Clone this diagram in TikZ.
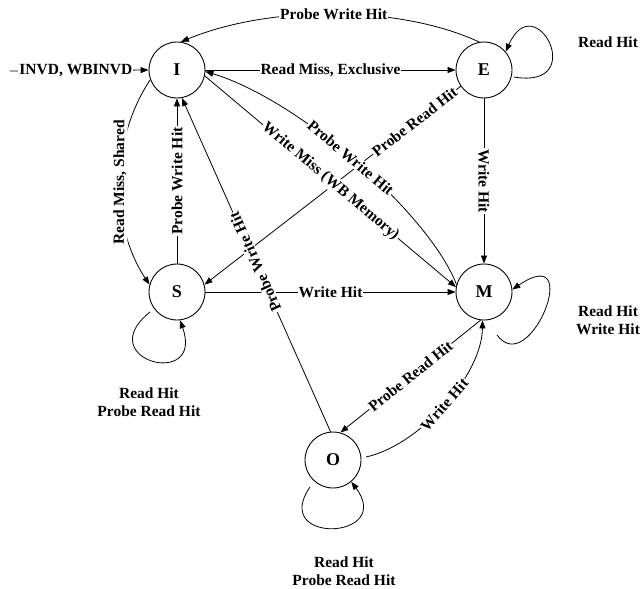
\documentclass[tikz,border=0pt]{standalone}
\usepackage{fontspec}
\setmainfont{Liberation Serif}
\usetikzlibrary{arrows.meta}
\begin{document}
\begin{tikzpicture}[x=1pt,y=1pt,
  state/.style={circle,draw,line width=0.9pt,minimum size=56pt,inner sep=0pt,font=\fontsize{18}{20}\selectfont\bfseries},
  lbl/.style={fill=white,inner sep=1pt,font=\fontsize{15.5}{18.5}\selectfont\bfseries},
  txt/.style={align=center,inner sep=0pt,font=\fontsize{15.5}{18.5}\selectfont\bfseries},
  edge/.style={line width=0.8pt,-{Triangle[length=8pt,width=6pt]}}]
\useasboundingbox (0,0) rectangle (641,-589);
\fill[white] (0,0) rectangle (641,-589);
\node[state] (I) at (177,-70) {I};
\node[state] (E) at (484,-70) {E};
\node[state] (S) at (177,-292) {S};
\node[state] (M) at (484,-292) {M};
\node[state] (O) at (333,-460) {O};
\coordinate (inv) at (10,-71);
% lines drawn first so later labels cover them
\draw[edge] (E.215) -- node[lbl,sloped,pos=0.18]{Probe Read Hit} (S.15);
\draw[edge] (S.east) -- node[lbl]{Write Hit} (M.west);
\draw[edge] (inv) -- node[lbl,pos=0.475]{INVD, WBINVD} (I.west);
\draw[edge] (E.100) .. controls (400,-5) and (270,-5) .. node[lbl,pos=0.5]{Probe Write Hit} (I.82);
\draw[edge] ([shift={(30,-7)}]E.center) .. controls (590,-90) and (535,15) .. (E.40);
\draw[edge] (I.east) -- node[lbl]{Read Miss, Exclusive} (E.west);
\draw[edge] (I.200) .. controls (110,-140) and (110,-225) .. node[lbl,sloped]{Read Miss, Shared} (S.165);
\draw[edge] (S.north) -- node[lbl,sloped]{Probe Write Hit} (I.south);
\draw[edge] (O.95) -- node[lbl,sloped,allow upside down,pos=0.508]{Probe Write Hit} (I.-80);
\draw[edge] (I.-12) -- node[lbl,sloped]{Write Miss (WB Memory)} (M.170);
\draw[edge] (M.165) .. controls (430,-215) and (300,-100) .. node[lbl,sloped,pos=0.52]{Probe Write Hit} (I.-3);
\draw[edge] (E.south) -- node[lbl,sloped]{Write Hit} (M.north);
\draw[edge] ([shift={(-27,-20)}]S.center) .. controls (90,-360) and (205,-390) .. (S.276);
\draw[edge] ([shift={(13,-43)}]M.center) .. controls (530,-380) and (585,-240) .. (M.5);
\draw[edge] (M.263) -- node[lbl,sloped]{Probe Read Hit} (O.75);
\draw[edge] ([shift={(33,3)}]O.center) .. controls (420,-445) and (482,-375) .. node[lbl,sloped,pos=0.5]{Write Hit} (M.267);
\draw[edge] ([shift={(-23,-27)}]O.center) .. controls (270,-545) and (395,-540) .. (O.-50);
\node[txt] (lE) at (608,-42) {Read Hit};
\node[txt] (lS) at (149,-402) {Read Hit\\Probe Read Hit};
\node[txt] (lM) at (608,-320) {Read Hit\\Write Hit};
\node[txt] (lO) at (344,-571) {Read Hit\\Probe Read Hit};
\end{tikzpicture}
\end{document}
